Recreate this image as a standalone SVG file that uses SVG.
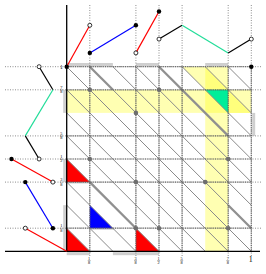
<svg xmlns="http://www.w3.org/2000/svg" width="266" height="274" viewBox="0 0 266 274">
<style>
.band{fill:#ffff00;fill-opacity:0.3}
.shadow{fill:#cfcfcf}
.diag{stroke:#8a8a8a;stroke-width:1;fill:none}
.thick{stroke:#909090;stroke-width:2.3;fill:none}
.grid{stroke:#5a5a5a;stroke-width:1.2;stroke-dasharray:1 1;fill:none}
.guide{stroke:#707070;stroke-width:0.8;stroke-dasharray:1 1.5;fill:none}
.gdot{fill:#6e6e6e}
.fdot{fill:#000}
.odot{fill:#fff;stroke:#000;stroke-width:0.8}
.axis{stroke:#000;stroke-width:1.3;fill:none}
.seg{stroke-width:1.2;fill:none}
.fr{font-family:"Liberation Serif",serif;font-size:4.3px;text-anchor:middle;fill:#000}
.bar{stroke:#000;stroke-width:0.3}
</style>
<rect width="266" height="274" fill="#fff"/>
<g id="yellow">
<rect class="band" x="66.7" y="89.8" width="184.6" height="23.1"/>
<rect class="band" x="205.2" y="66.7" width="23" height="184.6"/>
<polygon class="band" points="182.1,66.7 205.2,66.7 205.2,89.8"/>
<polygon class="band" points="205.2,66.7 205.2,89.8 228.2,89.8"/>
<polygon class="band" points="228.2,89.8 228.2,112.9 251.3,112.9"/>
</g>
<g id="shadows">
<rect class="shadow" x="66.7" y="63" width="46.2" height="3"/>
<rect class="shadow" x="135.9" y="63" width="23.1" height="3"/>
<rect class="shadow" x="205.2" y="63" width="23" height="3"/>
<rect class="shadow" x="63.2" y="89.8" width="2.8" height="23.1"/>
<rect class="shadow" x="63.2" y="159" width="2.8" height="23.1"/>
<rect class="shadow" x="63.2" y="205.2" width="2.8" height="46"/>
<rect class="shadow" x="66.7" y="252.2" width="23.1" height="3"/>
<rect class="shadow" x="112.9" y="252.2" width="46.1" height="3"/>
<rect class="shadow" x="252.2" y="112.9" width="3" height="23"/>
<polygon class="shadow" points="68.2,229.7 68.2,252.8 91.3,252.8"/>
<polygon class="shadow" points="68.2,160.5 68.2,183.6 91.3,183.6"/>
<polygon class="shadow" points="137.4,229.7 137.4,252.8 160.5,252.8"/>
<polygon class="shadow" points="91.3,206.7 91.3,229.7 114.4,229.7"/>
</g>
<g id="triangles">
<polygon fill="#ff0000" points="66.7,228.2 66.7,251.3 89.8,251.3"/>
<polygon fill="#ff0000" points="66.7,159 66.7,182.1 89.8,182.1"/>
<polygon fill="#ff0000" points="135.9,228.2 135.9,251.3 159,251.3"/>
<polygon fill="#0000ff" points="89.8,205.2 89.8,228.2 112.9,228.2"/>
<polygon fill="#00ee99" points="205.2,89.8 228.2,89.8 228.2,112.9"/>
</g>
<g id="connectors">
<g id="diagonals">
<line class="diag" x1="66.7" y1="228.2" x2="89.8" y2="251.3"/>
<line class="diag" x1="66.7" y1="205.2" x2="112.9" y2="251.3"/>
<line class="diag" x1="66.7" y1="182.1" x2="135.9" y2="251.3"/>
<line class="diag" x1="66.7" y1="159" x2="159" y2="251.3"/>
<line class="diag" x1="66.7" y1="135.9" x2="182.1" y2="251.3"/>
<line class="diag" x1="66.7" y1="112.9" x2="205.2" y2="251.3"/>
<line class="diag" x1="66.7" y1="89.8" x2="228.2" y2="251.3"/>
<line class="diag" x1="66.7" y1="66.7" x2="251.3" y2="251.3"/>
<line class="diag" x1="89.8" y1="66.7" x2="251.3" y2="228.2"/>
<line class="diag" x1="112.9" y1="66.7" x2="251.3" y2="205.2"/>
<line class="diag" x1="135.9" y1="66.7" x2="251.3" y2="182.1"/>
<line class="diag" x1="159" y1="66.7" x2="251.3" y2="159"/>
<line class="diag" x1="182.1" y1="66.7" x2="251.3" y2="135.9"/>
<line class="diag" x1="205.2" y1="66.7" x2="251.3" y2="112.9"/>
<line class="diag" x1="228.2" y1="66.7" x2="251.3" y2="89.8"/>
<line class="thick" x1="89.8" y1="66.7" x2="112.9" y2="89.8"/>
<line class="thick" x1="159" y1="66.7" x2="228.2" y2="135.9"/>
<line class="thick" x1="89.8" y1="182.1" x2="135.9" y2="228.2"/>
<line class="thick" x1="228.2" y1="205.2" x2="251.3" y2="228.2"/>
</g>
<g id="guides">
<path class="guide" d="M89.8,5V256M135.9,5V256M159,5V256M182.1,5V256M228.2,5V256M251.3,5V256"/>
<path class="guide" d="M5,66.7H262M5,89.8H262M5,135.9H262M5,159H262M5,182.1H262M5,228.2H262"/>
</g>
<g id="grid">
<path class="grid" d="M89.8,66.7V251.3M135.9,66.7V251.3M159,66.7V251.3M182.1,66.7V251.3M228.2,66.7V251.3M251.3,66.7V251.3"/>
<path class="grid" d="M66.7,66.7H251.3M66.7,89.8H251.3M66.7,135.9H251.3M66.7,159H251.3M66.7,182.1H251.3M66.7,228.2H251.3"/>
</g>
</g>
<g id="points">
<circle class="gdot" cx="89.8" cy="89.8" r="2.3"/>
<circle class="gdot" cx="159" cy="89.8" r="2.3"/>
<circle class="gdot" cx="135.9" cy="112.9" r="2.3"/>
<circle class="gdot" cx="89.8" cy="159" r="2.3"/>
<circle class="gdot" cx="228.2" cy="159" r="2.3"/>
<circle class="gdot" cx="135.9" cy="182.1" r="2.3"/>
<circle class="gdot" cx="205.2" cy="182.1" r="2.3"/>
<circle class="gdot" cx="135.9" cy="228.2" r="2.3"/>
<circle class="gdot" cx="159" cy="228.2" r="2.3"/>
<circle class="gdot" cx="228.2" cy="228.2" r="2.3"/>
<circle class="fdot" cx="251.3" cy="66.7" r="2.2"/>
</g>
<g id="axes">
<line class="axis" x1="66.7" y1="5" x2="66.7" y2="252"/>
<line class="axis" x1="5" y1="251.3" x2="260" y2="251.3"/>
</g>
<g id="top-graph">
<line class="seg" stroke="#ff0000" x1="66.7" y1="66.7" x2="89.8" y2="25.3"/>
<line class="seg" stroke="#0000ff" x1="89.8" y1="52.9" x2="135.9" y2="25.3"/>
<line class="seg" stroke="#ff0000" x1="135.9" y1="52.9" x2="159" y2="11.5"/>
<line class="seg" stroke="#000" x1="159" y1="39.1" x2="182.1" y2="25.3"/>
<line class="seg" stroke="#22dd99" x1="182.1" y1="25.3" x2="228.2" y2="52.9"/>
<line class="seg" stroke="#000" x1="228.2" y1="52.9" x2="251.3" y2="39.1"/>
<circle class="fdot" cx="66.7" cy="66.7" r="2.2"/>
<circle class="odot" cx="89.8" cy="25.3" r="2"/>
<circle class="fdot" cx="89.8" cy="52.9" r="2.2"/>
<circle class="fdot" cx="135.9" cy="25.3" r="2.2"/>
<circle class="odot" cx="135.9" cy="52.9" r="2"/>
<circle class="fdot" cx="159" cy="11.5" r="2.2"/>
<circle class="odot" cx="159" cy="39.1" r="2"/>
<circle class="odot" cx="251.3" cy="39.1" r="2"/>
</g>
<g id="left-graph">
<line class="seg" stroke="#000" x1="39.1" y1="66.7" x2="52.9" y2="89.8"/>
<line class="seg" stroke="#22dd99" x1="52.9" y1="89.8" x2="25.3" y2="135.9"/>
<line class="seg" stroke="#000" x1="25.3" y1="135.9" x2="39.1" y2="159"/>
<line class="seg" stroke="#ff0000" x1="11.5" y1="159" x2="52.9" y2="182.1"/>
<line class="seg" stroke="#0000ff" x1="25.3" y1="182.1" x2="52.9" y2="228.2"/>
<line class="seg" stroke="#ff0000" x1="25.3" y1="228.2" x2="66.7" y2="251.3"/>
<circle class="odot" cx="39.1" cy="66.7" r="2"/>
<circle class="odot" cx="39.1" cy="159" r="2"/>
<circle class="fdot" cx="11.5" cy="159" r="2.2"/>
<circle class="odot" cx="52.9" cy="182.1" r="2"/>
<circle class="fdot" cx="25.3" cy="182.1" r="2.2"/>
<circle class="fdot" cx="52.9" cy="228.2" r="2.2"/>
<circle class="odot" cx="25.3" cy="228.2" r="2"/>
</g>
<g id="y-labels" opacity="0.99">
<text class="fr" x="61.3" y="68.6" style="font-size:5.5px">1</text>
<text class="fr" x="61.3" y="89">7</text><line class="bar" x1="59.8" y1="89.8" x2="62.8" y2="89.8"/><text class="fr" x="61.3" y="93.2">8</text>
<text class="fr" x="61.3" y="135.1">5</text><line class="bar" x1="59.8" y1="135.9" x2="62.8" y2="135.9"/><text class="fr" x="61.3" y="139.3">8</text>
<text class="fr" x="61.3" y="158.2">1</text><line class="bar" x1="59.8" y1="159" x2="62.8" y2="159"/><text class="fr" x="61.3" y="162.4">2</text>
<text class="fr" x="61.3" y="181.3">3</text><line class="bar" x1="59.8" y1="182.1" x2="62.8" y2="182.1"/><text class="fr" x="61.3" y="185.5">8</text>
<text class="fr" x="61.3" y="227.4">1</text><line class="bar" x1="59.8" y1="228.2" x2="62.8" y2="228.2"/><text class="fr" x="61.3" y="231.6">8</text>
</g>
<g id="x-labels" opacity="0.99">
<text class="fr" x="89.2" y="259.8">1</text><line class="bar" x1="87.7" y1="260.6" x2="90.7" y2="260.6"/><text class="fr" x="89.2" y="264">8</text>
<text class="fr" x="135.5" y="259.8">3</text><line class="bar" x1="134" y1="260.6" x2="137" y2="260.6"/><text class="fr" x="135.5" y="264">8</text>
<text class="fr" x="158.6" y="259.8">1</text><line class="bar" x1="157.1" y1="260.6" x2="160.1" y2="260.6"/><text class="fr" x="158.6" y="264">2</text>
<text class="fr" x="181.7" y="259.8">5</text><line class="bar" x1="180.2" y1="260.6" x2="183.2" y2="260.6"/><text class="fr" x="181.7" y="264">8</text>
<text class="fr" x="227.8" y="259.8">7</text><line class="bar" x1="226.3" y1="260.6" x2="229.3" y2="260.6"/><text class="fr" x="227.8" y="264">8</text>
<text class="fr" x="250.8" y="262" style="font-size:8px">1</text>
</g>
</svg>
